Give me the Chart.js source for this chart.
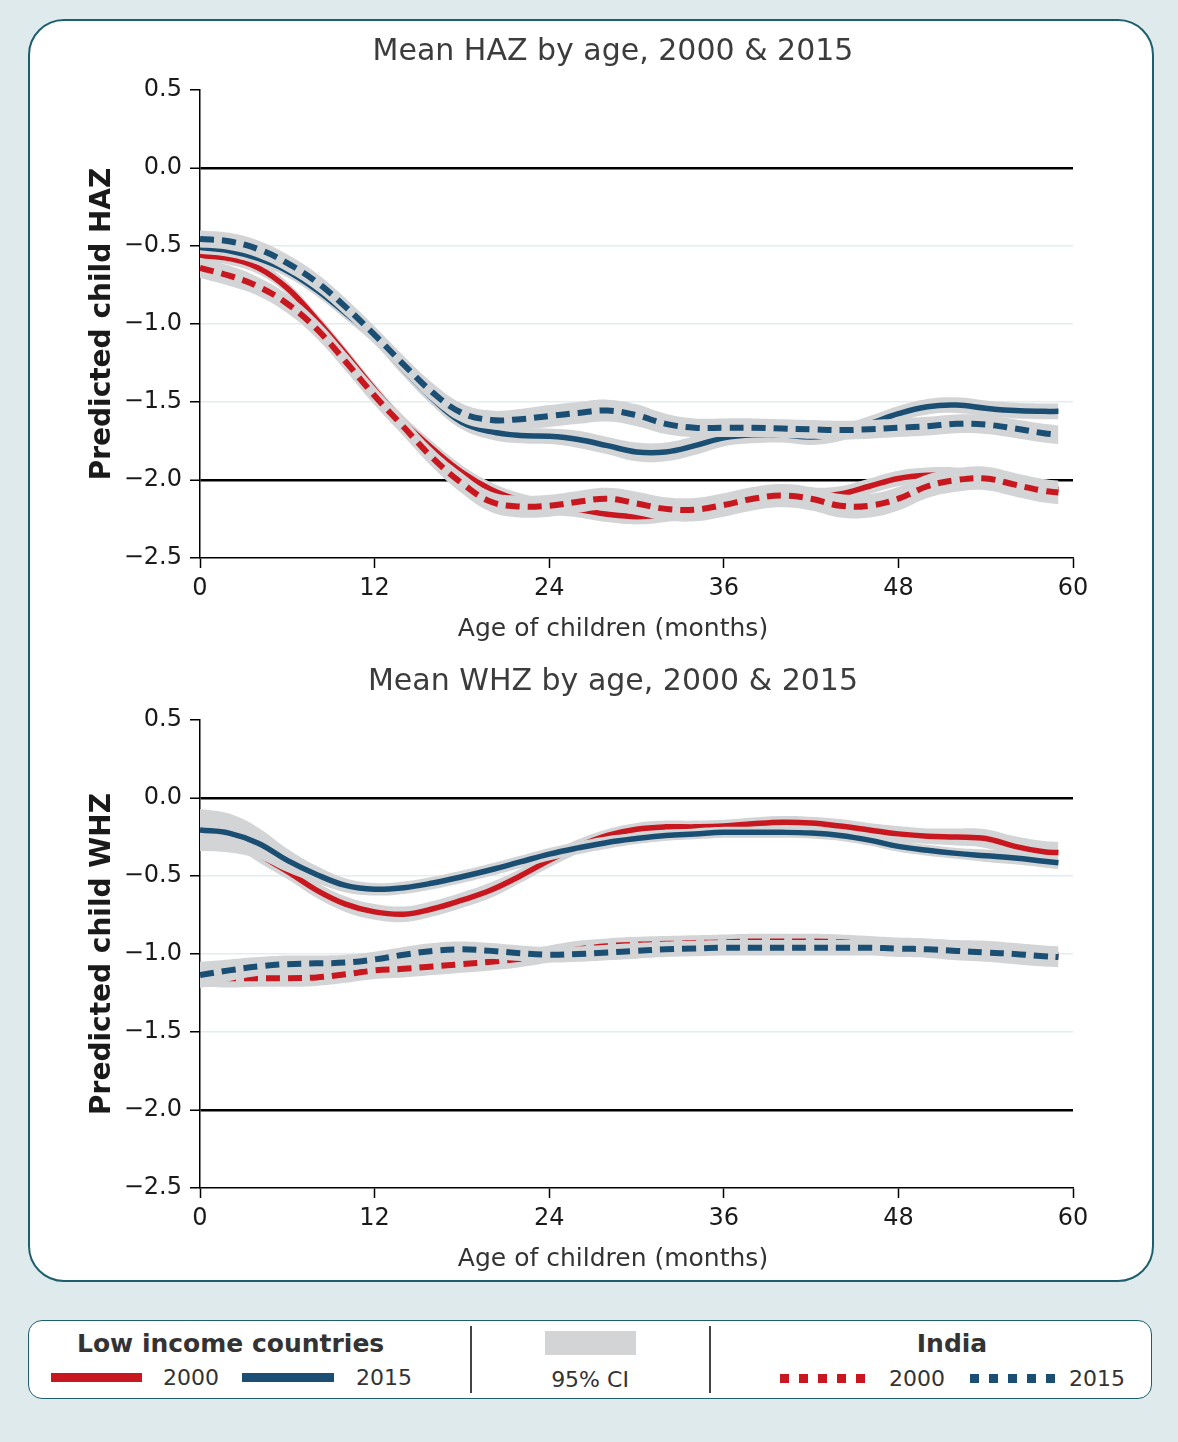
<!DOCTYPE html>
<html>
<head>
<meta charset="utf-8">
<script src="https://cdn.jsdelivr.net/npm/chart.js@4.4.1/dist/chart.umd.min.js"></script>
<style>
  html, body { margin: 0; padding: 0; width: 1178px; height: 1442px; overflow: hidden; background: #dfeaed; font-family: 'DejaVu Sans', sans-serif; }
  #panel { position: absolute; left: 28px; top: 19px; width: 1126px; height: 1263px; box-sizing: border-box; border: 2.5px solid #1e5f6d; border-radius: 36px; background: #fff; }
  canvas { position: absolute; }
  #legend { position: absolute; left: 28px; top: 1320px; width: 1124px; height: 79px; box-sizing: border-box; border: 1.5px solid #1e5f6d; border-radius: 14px; background: #fff; }
  .t { position: absolute; color: #333; white-space: nowrap; }
  .head { font-weight: bold; font-size: 25px; height: 30px; line-height: 30px; text-align: center; }
  .lab { font-size: 22px; height: 26px; line-height: 26px; }
  .bar { position: absolute; height: 9px; }
  .sep { position: absolute; width: 1.5px; background: #444; top: 1326px; height: 67px; }
</style>
</head>
<body>
<div id="panel"></div>
<canvas id="haz" width="1130" height="630" style="left:48px;top:20px;"></canvas>
<canvas id="whz" width="1130" height="630" style="left:48px;top:650px;"></canvas>

<div id="legend"></div>
<div class="t head" style="left:77px;top:1329px;width:304px;">Low income countries</div>
<div class="bar" style="left:51px;top:1373px;width:91px;background:#c8171f;"></div>
<div class="t lab" style="left:163px;top:1365px;">2000</div>
<div class="bar" style="left:242px;top:1373px;width:92px;background:#1b4e73;"></div>
<div class="t lab" style="left:356px;top:1365px;">2015</div>
<div class="sep" style="left:470px;"></div>
<div class="bar" style="left:545px;top:1331px;width:91px;height:24px;background:#d3d4d6;"></div>
<div class="t lab" style="left:540px;top:1367px;width:100px;text-align:center;">95% CI</div>
<div class="sep" style="left:709px;"></div>
<div class="t head" style="left:880px;top:1329px;width:144px;">India</div>
<div id="dotsRed"></div>
<div class="t lab" style="left:889px;top:1366px;">2000</div>
<div id="dotsBlue"></div>
<div class="t lab" style="left:1069px;top:1366px;">2015</div>

<script>
// Age in months at which each curve is sampled
const ages = [0,2,4,6,8,10,12,14,16,18,20,22,24,26,28,30,32,34,36,38,40,42,44,46,48,50,52,54,56,58,59];
const xTicks = [0, 12, 24, 36, 48, 60];
const yTicks = [0.5, 0, -0.5, -1, -1.5, -2, -2.5];

// Mean height-for-age z-score
const hazLic2000 = [-0.56,-0.58,-0.64,-0.77,-0.97,-1.19,-1.42,-1.63,-1.80,-1.95,-2.06,-2.13,-2.17,-2.19,-2.22,-2.235,-2.22,-2.18,-2.14,-2.10,-2.09,-2.10,-2.09,-2.04,-1.99,-1.97,-1.97,-1.99,-2.02,-2.05,-2.06];
const hazLic2015 = [-0.51,-0.53,-0.58,-0.66,-0.78,-0.93,-1.09,-1.29,-1.48,-1.63,-1.69,-1.715,-1.72,-1.74,-1.78,-1.82,-1.82,-1.78,-1.73,-1.71,-1.71,-1.725,-1.70,-1.64,-1.575,-1.53,-1.52,-1.54,-1.555,-1.56,-1.56];
const hazInd2000 = [-0.64,-0.69,-0.76,-0.87,-1.03,-1.24,-1.46,-1.66,-1.86,-2.02,-2.14,-2.17,-2.165,-2.14,-2.12,-2.15,-2.185,-2.19,-2.16,-2.12,-2.10,-2.12,-2.165,-2.165,-2.12,-2.04,-2.0,-1.99,-2.03,-2.07,-2.08];
const hazInd2015 = [-0.455,-0.47,-0.52,-0.61,-0.73,-0.89,-1.07,-1.26,-1.44,-1.57,-1.615,-1.61,-1.59,-1.57,-1.555,-1.585,-1.64,-1.665,-1.665,-1.665,-1.67,-1.675,-1.68,-1.675,-1.665,-1.655,-1.64,-1.645,-1.67,-1.70,-1.71];
// Half-width of the 95% confidence interval
const hazLic2000Ci = [0.04,0.04,0.04,0.04,0.04,0.04,0.04,0.04,0.045,0.045,0.045,0.045,0.05,0.05,0.05,0.05,0.05,0.05,0.05,0.05,0.05,0.05,0.05,0.05,0.05,0.05,0.05,0.05,0.055,0.055,0.055];
const hazLic2015Ci = [0.04,0.04,0.04,0.04,0.04,0.04,0.04,0.045,0.045,0.045,0.05,0.05,0.05,0.055,0.055,0.06,0.06,0.06,0.055,0.055,0.05,0.05,0.05,0.05,0.05,0.05,0.05,0.05,0.05,0.05,0.05];
const hazInd2000Ci = [0.065,0.065,0.06,0.06,0.06,0.06,0.06,0.06,0.06,0.065,0.065,0.07,0.07,0.07,0.07,0.075,0.075,0.075,0.075,0.075,0.075,0.075,0.075,0.075,0.075,0.075,0.075,0.075,0.075,0.075,0.075];
const hazInd2015Ci = [0.055,0.055,0.055,0.055,0.055,0.055,0.055,0.055,0.06,0.06,0.06,0.065,0.07,0.07,0.07,0.07,0.065,0.06,0.06,0.06,0.06,0.06,0.06,0.06,0.06,0.06,0.06,0.06,0.06,0.06,0.06];

// Mean weight-for-height z-score
const whzLic2000 = [-0.20,-0.24,-0.36,-0.47,-0.59,-0.68,-0.73,-0.745,-0.71,-0.655,-0.59,-0.50,-0.40,-0.31,-0.24,-0.20,-0.185,-0.185,-0.18,-0.165,-0.155,-0.16,-0.18,-0.205,-0.23,-0.245,-0.25,-0.26,-0.31,-0.345,-0.35];
const whzLic2015 = [-0.205,-0.225,-0.29,-0.40,-0.49,-0.56,-0.585,-0.575,-0.545,-0.505,-0.46,-0.41,-0.36,-0.32,-0.285,-0.26,-0.24,-0.23,-0.22,-0.22,-0.22,-0.225,-0.24,-0.27,-0.31,-0.335,-0.355,-0.37,-0.385,-0.405,-0.415];
const whzInd2000 = [-1.15,-1.155,-1.155,-1.155,-1.15,-1.13,-1.105,-1.095,-1.08,-1.065,-1.05,-1.03,-1.0,-0.97,-0.95,-0.94,-0.935,-0.93,-0.925,-0.92,-0.92,-0.92,-0.925,-0.935,-0.945,-0.955,-0.965,-0.975,-0.99,-1.005,-1.01];
const whzInd2015 = [-1.135,-1.105,-1.08,-1.065,-1.06,-1.055,-1.035,-1.005,-0.98,-0.97,-0.98,-0.995,-1.005,-1.0,-0.99,-0.98,-0.97,-0.965,-0.96,-0.96,-0.96,-0.96,-0.96,-0.96,-0.965,-0.97,-0.98,-0.99,-1.0,-1.015,-1.02];
const whzLic2000Ci = [0.05,0.05,0.05,0.05,0.05,0.05,0.05,0.05,0.05,0.05,0.05,0.045,0.045,0.045,0.04,0.04,0.04,0.04,0.04,0.04,0.04,0.04,0.045,0.045,0.05,0.05,0.055,0.06,0.065,0.07,0.07];
const whzLic2015Ci = [0.135,0.125,0.1,0.075,0.055,0.045,0.04,0.04,0.04,0.04,0.04,0.04,0.04,0.04,0.04,0.035,0.035,0.035,0.035,0.035,0.035,0.035,0.035,0.035,0.035,0.035,0.035,0.04,0.04,0.04,0.04];
const whzInd2000Ci = [0.06,0.06,0.055,0.055,0.055,0.055,0.055,0.055,0.055,0.055,0.055,0.055,0.055,0.055,0.05,0.05,0.05,0.05,0.05,0.05,0.05,0.05,0.05,0.05,0.05,0.055,0.055,0.06,0.06,0.06,0.06];
const whzInd2015Ci = [0.085,0.07,0.06,0.055,0.05,0.05,0.05,0.05,0.05,0.05,0.05,0.05,0.05,0.05,0.05,0.05,0.05,0.05,0.05,0.05,0.05,0.05,0.05,0.05,0.055,0.055,0.06,0.06,0.065,0.065,0.065];

const RED = '#c8171f';
const BLUE = '#1b4e73';
const BAND = '#d3d4d6';
const FONT = "'DejaVu Sans', sans-serif";
const X_TITLE = 'Age of children (months)';

// Dotted legend keys for the India series
function dots(id, left, color) {
  const host = document.getElementById(id);
  for (let i = 0; i < 5; i++) {
    const d = document.createElement('div');
    d.className = 'bar';
    d.style.cssText = 'left:' + (left + i * 19) + 'px;top:1374px;width:9px;background:' + color + ';';
    host.appendChild(d);
  }
}
dots('dotsRed', 780, RED);
dots('dotsBlue', 970, BLUE);

// Panel heading and x-axis caption, centred on a common column left of the plot centre
const panelTitles = {
  id: 'panelTitles',
  afterDraw(chart, args, opts) {
    const ctx = chart.ctx;
    ctx.save();
    ctx.textAlign = 'center';
    ctx.textBaseline = 'middle';
    ctx.fillStyle = '#3c3c3c';
    ctx.font = '30px ' + FONT;
    ctx.fillText(opts.title, opts.cx, opts.titleY);
    ctx.fillStyle = '#333';
    ctx.font = '25px ' + FONT;
    ctx.fillText(opts.xTitle, opts.cx, opts.xTitleY);
    ctx.restore();
  }
};

function points(vals, ci, sign) {
  return ages.map((a, i) => ({ x: a, y: vals[i] + sign * (ci ? ci[i] : 0) }));
}

// Series are listed from bottom layer to top layer; each draws its CI band, then its line.
function buildDatasets(series) {
  const out = [];
  const n = series.length;
  series.forEach((s, k) => {
    const base = out.length;
    const layer = 2 * (n - 1 - k);
    out.push({ label: s.name + ' CI high', data: points(s.mean, s.ci, 1), borderWidth: 0, pointRadius: 0,
               backgroundColor: BAND, fill: { target: base + 1 }, tension: 0.4, order: layer + 1 });
    out.push({ label: s.name + ' CI low', data: points(s.mean, s.ci, -1), borderWidth: 0, pointRadius: 0,
               fill: false, tension: 0.4, order: layer + 1 });
    out.push({ label: s.name, data: points(s.mean, null, 0), borderColor: s.color, borderWidth: s.dashed ? 6 : 5.5,
               borderDash: s.dashed ? [14, 8] : [], pointRadius: 0, fill: false, tension: 0.4, order: layer });
  });
  return out;
}

function makeChart(id, title, yTitle, series) {
  new Chart(document.getElementById(id), {
    type: 'line',
    data: { datasets: buildDatasets(series) },
    plugins: [panelTitles],
    options: {
      responsive: false,
      animation: false,
      layout: { padding: { left: 0, right: 105, top: 70, bottom: 36 } },
      plugins: {
        legend: { display: false },
        tooltip: { enabled: false },
        panelTitles: { title: title, xTitle: X_TITLE, cx: 565, titleY: 32, xTitleY: 609 }
      },
      scales: {
        x: {
          type: 'linear', min: 0, max: 60,
          afterBuildTicks: (scale) => { scale.ticks = xTicks.map(v => ({ value: v })); },
          afterFit: (scale) => { scale.height = 56; },
          ticks: { color: '#1a1a1a', font: { family: FONT, size: 24 }, padding: 6, maxRotation: 0 },
          grid: { drawOnChartArea: false, drawTicks: true, tickLength: 10, tickColor: '#000', tickWidth: 1.5 },
          border: { color: '#000', width: 1.5 }
        },
        y: {
          type: 'linear', min: -2.5, max: 0.5,
          afterBuildTicks: (scale) => { scale.ticks = yTicks.map(v => ({ value: v })); },
          afterFit: (scale) => { scale.width = 152; },
          ticks: { color: '#1a1a1a', font: { family: FONT, size: 24 }, padding: 8,
                   callback: (v) => Number(v).toFixed(1).replace('-', '\u2212') },
          grid: {
            drawTicks: true, tickLength: 10, tickColor: '#000', tickWidth: 1.5,
            color: (c) => {
              const v = c.tick && c.tick.value;
              if (v === 0 || v === -2) return '#000';
              if (v === 0.5 || v === -2.5) return 'rgba(0,0,0,0)';
              return '#e3edef';
            },
            lineWidth: (c) => {
              const v = c.tick && c.tick.value;
              return (v === 0 || v === -2) ? 2.5 : 1.5;
            }
          },
          border: { color: '#000', width: 1.5 },
          title: { display: true, text: yTitle, color: '#1a1a1a', font: { family: FONT, size: 28, weight: 'bold' },
                   padding: { top: 38, bottom: 0 } }
        }
      }
    }
  });
}

makeChart('haz', 'Mean HAZ by age, 2000 & 2015', 'Predicted child HAZ', [
  { name: 'Low income 2000', mean: hazLic2000, ci: hazLic2000Ci, color: RED, dashed: false },
  { name: 'Low income 2015', mean: hazLic2015, ci: hazLic2015Ci, color: BLUE, dashed: false },
  { name: 'India 2000', mean: hazInd2000, ci: hazInd2000Ci, color: RED, dashed: true },
  { name: 'India 2015', mean: hazInd2015, ci: hazInd2015Ci, color: BLUE, dashed: true }
]);

makeChart('whz', 'Mean WHZ by age, 2000 & 2015', 'Predicted child WHZ', [
  { name: 'Low income 2000', mean: whzLic2000, ci: whzLic2000Ci, color: RED, dashed: false },
  { name: 'Low income 2015', mean: whzLic2015, ci: whzLic2015Ci, color: BLUE, dashed: false },
  { name: 'India 2000', mean: whzInd2000, ci: whzInd2000Ci, color: RED, dashed: true },
  { name: 'India 2015', mean: whzInd2015, ci: whzInd2015Ci, color: BLUE, dashed: true }
]);
</script>
</body>
</html>
